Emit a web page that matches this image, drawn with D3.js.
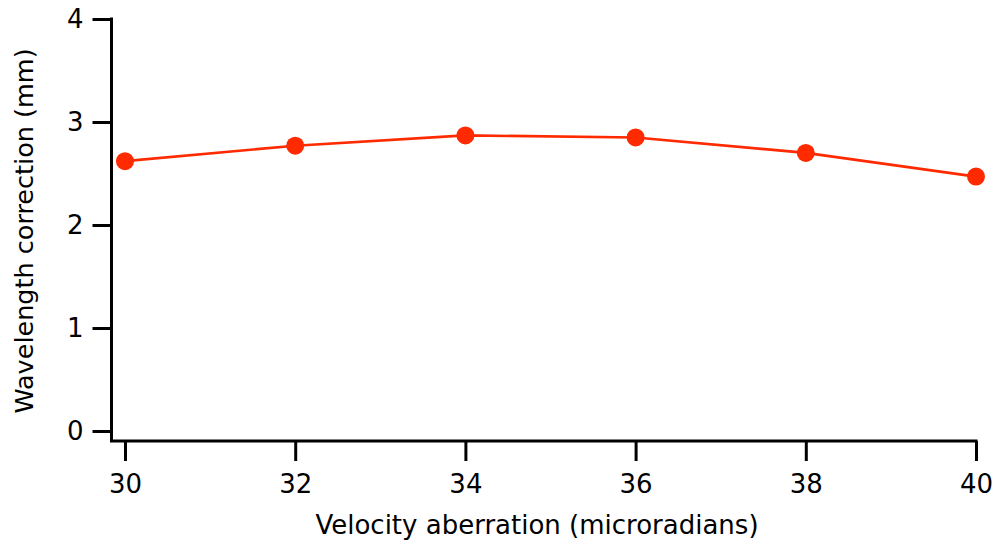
<!DOCTYPE html>
<html>
<head>
<meta charset="utf-8">
<script src="https://d3js.org/d3.v7.min.js"></script>
<style>
  body { margin: 0; background: #fff; }
  text { font-family: "DejaVu Sans", Verdana, sans-serif; fill: #000; }
</style>
</head>
<body>
<svg id="chart" width="998" height="545"></svg>
<script>
// data
const velocity = [30, 32, 34, 36, 38, 40];
const correction = [2.62, 2.77, 2.87, 2.85, 2.70, 2.47];
const xTicks = [30, 32, 34, 36, 38, 40];
const yTicks = [0, 1, 2, 3, 4];
const xTitle = 'Velocity aberration (microradians)';
const yTitle = 'Wavelength correction (mm)';

const svg = d3.select('#chart');
const red = '#ff2a00';

// axis lines sit slightly outside the first tick, like the original
const x = d3.scaleLinear().domain([30, 40]).range([125, 976]);
const y = d3.scaleLinear().domain([0, 4]).range([431, 19]);
const axisX = 111.5;
const axisY = 441;

const xAxis = d3.axisBottom(x)
  .tickValues(xTicks)
  .tickFormat(d3.format('d'))
  .tickSize(20)
  .tickPadding(14)
  .tickSizeOuter(0);

const yAxis = d3.axisLeft(y)
  .tickValues(yTicks)
  .tickFormat(d3.format('d'))
  .tickSize(19)
  .tickPadding(9)
  .tickSizeOuter(0);

const gx = svg.append('g')
  .attr('transform', `translate(0,${axisY})`)
  .call(xAxis);
gx.select('.domain').remove();
gx.append('line')
  .attr('x1', axisX - 1.5).attr('x2', x(40) + 1.5)
  .attr('stroke', '#000').attr('stroke-width', 3);

const gy = svg.append('g')
  .attr('transform', `translate(${axisX},0)`)
  .call(yAxis);
gy.select('.domain').remove();
gy.append('line')
  .attr('y1', y(4) - 1.5).attr('y2', axisY)
  .attr('stroke', '#000').attr('stroke-width', 3);

[gx, gy].forEach((g) => {
  g.selectAll('.tick line').attr('stroke', '#000').attr('stroke-width', 3);
  g.selectAll('.tick text')
    .style('font-family', '"DejaVu Sans", Verdana, sans-serif')
    .style('font-size', '26px')
    .attr('fill', '#000');
});

// axis titles
svg.append('text')
  .attr('x', 537)
  .attr('y', 534)
  .attr('text-anchor', 'middle')
  .style('font-size', '26px')
  .text(xTitle);

svg.append('text')
  .attr('transform', 'translate(33,231) rotate(-90)')
  .attr('text-anchor', 'middle')
  .style('font-size', '25.5px')
  .text(yTitle);

// series
const points = velocity.map((v, i) => ({ v, c: correction[i] }));

svg.append('path')
  .datum(points)
  .attr('fill', 'none')
  .attr('stroke', red)
  .attr('stroke-width', 2.6)
  .attr('d', d3.line().x(d => x(d.v)).y(d => y(d.c)));

svg.selectAll('circle.pt')
  .data(points)
  .enter()
  .append('circle')
  .attr('class', 'pt')
  .attr('cx', d => x(d.v))
  .attr('cy', d => y(d.c))
  .attr('r', 9)
  .attr('fill', red);
</script>
</body>
</html>
